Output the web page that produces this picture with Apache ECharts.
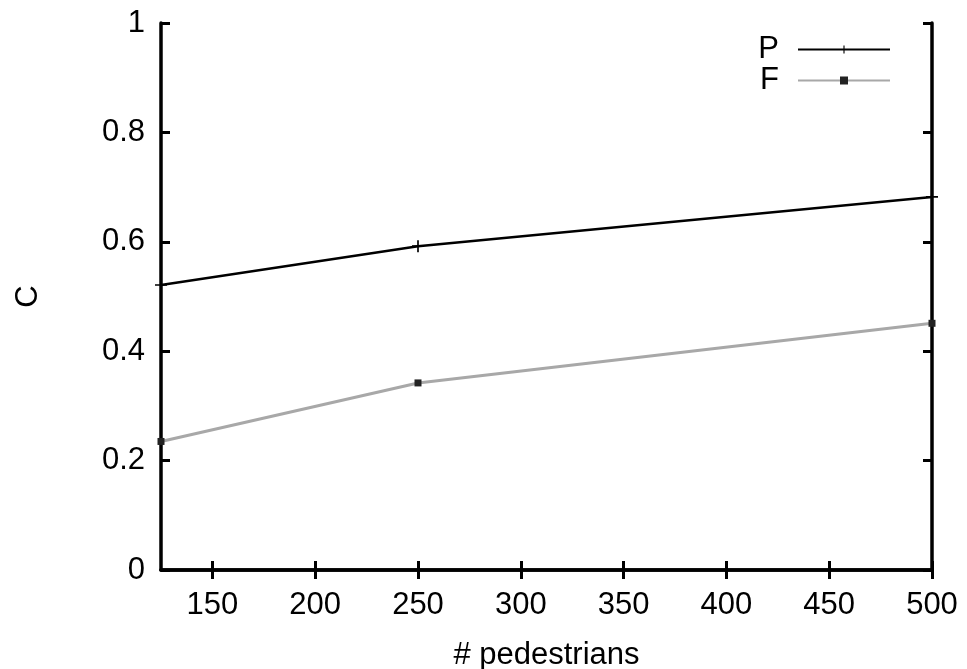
<!DOCTYPE html>
<html>
<head>
<meta charset="utf-8">
<script src="https://cdn.jsdelivr.net/npm/echarts@6/dist/echarts.min.js"></script>
<style>html,body{margin:0;padding:0;background:#fff}#c{width:967px;height:669px}</style>
</head>
<body>
<div id="c"></div>
<script>
const pedestrians = [125, 250, 500];
const valuesP = [0.521, 0.592, 0.682];
const valuesF = [0.235, 0.342, 0.451];
const xTicks = [150, 200, 250, 300, 350, 400, 450, 500];
const yTicks = [0, 0.2, 0.4, 0.6, 0.8, 1];

const FONT = '"Liberation Sans", Arial, sans-serif';
const FS = 31;
const plusPath = 'path://M4.3,0h1.4v10h-1.4z M0,4.3h10v1.4h-10z';

const chart = echarts.init(document.getElementById('c'), null, {renderer: 'canvas'});

const axisLine = {show: true, lineStyle: {color: '#000', width: 3.5}};
const tickStyle = {show: true, inside: true, length: 9, lineStyle: {color: '#000', width: 3}};

chart.setOption({
  animation: false,
  backgroundColor: '#fff',
  grid: {left: 161, right: 35, top: 23, bottom: 99, containLabel: false, outerBoundsMode: 'none'},
  legend: {
    orient: 'vertical',
    right: 71,
    top: 29,
    align: 'right',
    itemWidth: 92,
    itemHeight: 10,
    itemGap: 0,
    textStyle: {fontFamily: FONT, fontSize: FS, color: '#000', padding: [0, 14, 0, 0]},
    data: ['P', 'F']
  },
  xAxis: [{
    type: 'value', min: 125, max: 500,
    name: '# pedestrians', nameLocation: 'middle', nameGap: 70,
    nameTextStyle: {fontFamily: FONT, fontSize: FS, color: '#000'},
    axisLine: axisLine,
    axisTick: Object.assign({customValues: xTicks}, tickStyle),
    axisLabel: {customValues: xTicks, fontFamily: FONT, fontSize: FS, color: '#000', margin: 20},
    splitLine: {show: false}
  }, {
    type: 'value', min: 125, max: 500, position: 'top',
    axisLine: axisLine,
    axisTick: Object.assign({customValues: xTicks}, tickStyle),
    axisLabel: {show: false, customValues: xTicks},
    splitLine: {show: false}
  }],
  yAxis: [{
    type: 'value', min: 0, max: 1, interval: 0.2,
    name: 'C', nameLocation: 'middle', nameGap: 117, nameRotate: 90,
    nameTextStyle: {fontFamily: FONT, fontSize: FS, color: '#000'},
    axisLine: axisLine,
    axisTick: tickStyle,
    axisLabel: {fontFamily: FONT, fontSize: FS, color: '#000', margin: 16,
      formatter: v => String(Math.round(v * 10) / 10)},
    splitLine: {show: false}
  }, {
    type: 'value', min: 0, max: 1, interval: 0.2, position: 'right',
    axisLine: axisLine,
    axisTick: tickStyle,
    axisLabel: {show: false},
    splitLine: {show: false}
  }],
  series: [{
    name: 'P', type: 'line',
    data: pedestrians.map((x, i) => [x, valuesP[i]]),
    symbol: plusPath, symbolSize: 12,
    itemStyle: {color: '#000'},
    lineStyle: {color: '#000', width: 2.5},
    clip: false
  }, {
    name: 'F', type: 'line',
    data: pedestrians.map((x, i) => [x, valuesF[i]]),
    symbol: 'rect', symbolSize: 7,
    itemStyle: {color: '#222'},
    lineStyle: {color: '#a8a8a8', width: 3},
    clip: false
  }]
});
</script>
</body>
</html>
